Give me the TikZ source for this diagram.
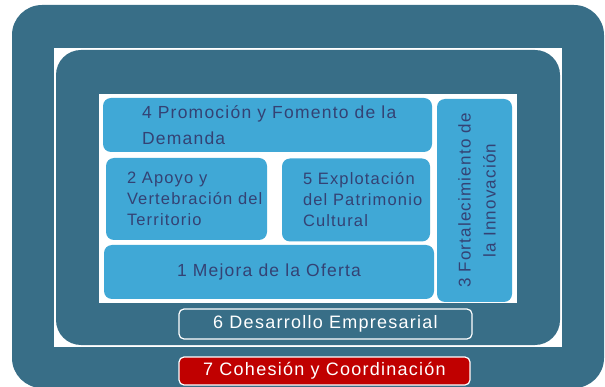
\documentclass[tikz,border=0pt]{standalone}
\usepackage{fontspec}
\setmainfont{Liberation Sans}
\newfontfamily\boxfont[LetterSpace=7]{Liberation Sans}
\usetikzlibrary{positioning}
\definecolor{frameteal}{RGB}{56,110,135}
\definecolor{boxblue}{RGB}{64,168,214}
\definecolor{boxtextc}{RGB}{52,66,116}
\definecolor{cohred}{RGB}{192,0,0}
\begin{document}
\begin{tikzpicture}[x=1pt,y=-1pt,
  bluebox/.style={fill=boxblue,rounded corners=8pt,inner sep=0pt},
  boxtext/.style={text=boxtextc,inner sep=0pt,font=\boxfont\fontsize{16.5}{21}\selectfont},
  whitebox/.style={draw=white,line width=1.2pt,rounded corners=5pt,inner sep=0pt,
    text=white,font=\boxfont\fontsize{18}{22}\selectfont}]
  \useasboundingbox (0,0) rectangle (605,387);
  % frames
  \fill[frameteal,rounded corners=30pt] (12,5) rectangle (604,388);
  \fill[white] (54,48) rectangle (562,347);
  \fill[frameteal,rounded corners=25pt] (56,50) rectangle (560,345);
  \fill[white] (99,94) rectangle (517,303);
  % blue boxes
  \node[bluebox,minimum width=329pt,minimum height=54pt] (promo) at (267.5,125) {};
  \node[boxtext,anchor=west,align=left,font=\boxfont\fontsize{17.5}{26}\selectfont]
    (promotxt) at ([xshift=39pt]promo.west) {4 Promoción y Fomento de la\\Demanda};
  \node[bluebox,minimum width=161pt,minimum height=82pt] (apoyo) at (186.5,199) {};
  \node[boxtext,anchor=west,align=left]
    (apoyotxt) at ([xshift=21pt]apoyo.west) {2 Apoyo y\\Vertebración del\\Territorio};
  \node[bluebox,minimum width=148pt,minimum height=83pt] (patri) at (356,200) {};
  \node[boxtext,anchor=west,align=left]
    (patritxt) at ([xshift=21pt]patri.west) {5 Explotación\\del Patrimonio\\Cultural};
  \node[bluebox,minimum width=330pt,minimum height=54pt] (oferta) at (269,272) {};
  \node[boxtext,font=\boxfont\fontsize{17.5}{21}\selectfont] (ofertatxt) at (oferta) {1 Mejora de la Oferta};
  \node[bluebox,minimum width=75pt,minimum height=203pt] (innov) at (474.5,200.5) {};
  \node[boxtext,rotate=90,align=center,font=\boxfont\fontsize{17}{25}\selectfont]
    (innovtxt) at ([xshift=2.5pt]innov.center) {3 Fortalecimiento de\\la Innovación};
  % bottom bars
  \node[whitebox,fill=frameteal,minimum width=293pt,minimum height=30pt]
    (empresa) at (325.5,324) {6 Desarrollo Empresarial};
  \node[whitebox,fill=cohred,minimum width=291pt,minimum height=28pt]
    (cohesion) at (324.5,371) {7 Cohesión y Coordinación};
\end{tikzpicture}
\end{document}
